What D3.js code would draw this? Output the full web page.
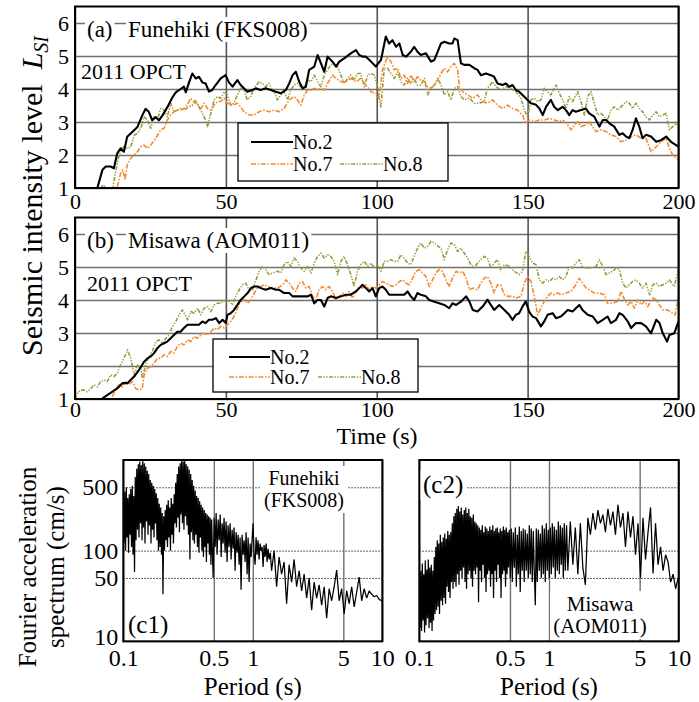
<!DOCTYPE html>
<html>
<head>
<meta charset="utf-8">
<script src="https://cdn.jsdelivr.net/npm/d3@7"></script>
<style>
html, body { margin: 0; padding: 0; background: #fff; }
svg { display: block; }
</style>
</head>
<body>
<svg id="chart" width="699" height="702"></svg>
<script>
// ---------- data ----------
const timeTicks = [0, 50, 100, 150, 200];
const levelTicks = [1, 2, 3, 4, 5, 6];
const periodTicks = [0.1, 0.5, 1, 5, 10];
const fasTicks = [10, 50, 100, 500];
const seriesNames = ["No.2", "No.7", "No.8"];

// Seismic intensity level L_SI vs time (s), Funehiki (FKS008)
const funehikiNo2 = [[7.4,1.0],[9.1,1.55],[10.2,1.65],[11.8,1.65],[12.9,1.6],[14,2.05],[15.1,2.2],[16.2,2.1],[17.3,2.55],[19,2.7],[20.7,2.85],[22.3,3.2],[23.4,3.4],[24.5,3.3],[25.6,3.05],[26.7,3.15],[27.8,3.05],[29,3.2],[30.6,3.45],[32.3,3.75],[33.4,3.9],[35,4.0],[36.1,4.07],[36.7,3.9],[37.8,4.2],[38.9,4.47],[40,4.32],[41.1,4.37],[42.2,4.2],[43.3,4.17],[44.4,3.92],[45.5,3.97],[46.6,4.12],[48.3,4.32],[49.9,4.42],[51,4.2],[52.2,4.07],[53.8,4.27],[54.9,4.12],[56,4.02],[57.1,3.92],[58.8,3.97],[59.9,4.02],[61.5,3.97],[63.2,4.02],[64.9,3.97],[66.5,3.92],[68.2,3.87],[69.9,3.97],[71,4.17],[72.1,4.42],[73.2,4.52],[74.3,4.22],[75.4,4.02],[76.5,4.07],[77.6,4.58],[79.3,4.68],[80.4,5.03],[81.5,4.78],[82.6,4.52],[83.7,4.98],[85.3,4.83],[86.5,4.68],[87.6,4.83],[89.2,4.93],[91.4,5.08],[93.1,5.18],[94.2,5.03],[95.3,4.98],[96.4,4.98],[98.1,4.83],[99.7,4.68],[101.4,4.88],[103,5.59],[104.1,5.38],[105.2,5.48],[106.4,5.28],[107.5,5.38],[108.6,5.03],[109.7,4.98],[111.3,5.13],[112.4,5.28],[113.5,5.13],[114.6,5.03],[116.3,5.08],[118,4.83],[119.1,4.88],[120.2,5.13],[121.3,5.38],[122.4,5.43],[124,5.38],[125.1,5.38],[125.7,5.53],[126.8,5.48],[127.9,4.78],[129,4.73],[130.7,4.73],[132.3,4.63],[133.4,4.58],[134.5,4.42],[136.2,4.47],[137.8,4.42],[138.9,4.37],[140,4.17],[141.7,4.12],[142.8,4.17],[143.9,4.07],[145,4.12],[146.1,3.97],[147.2,3.92],[148.3,3.82],[150,3.67],[151.1,3.57],[152.8,3.52],[153.9,3.41],[155,3.21],[156.1,3.46],[157.7,3.67],[158.8,3.46],[160,3.36],[161.6,3.46],[162.7,3.36],[163.8,3.21],[164.9,3.36],[166,3.31],[167.7,3.36],[169.3,3.41],[170.4,3.26],[172.1,3.16],[173.8,2.86],[174.9,3.06],[176,3.06],[177.1,2.96],[178.7,2.86],[180.4,2.61],[181.5,2.66],[182.6,2.56],[183.7,2.51],[184.8,2.76],[185.9,3.11],[187,2.86],[188.1,2.51],[189.2,2.61],[190.9,2.56],[192.6,2.4],[194.2,2.45],[195.9,2.56],[197.5,2.4],[199.2,2.3],[200,2.25]];

const funehikiNo7 = [[14,1.04],[15.1,1.44],[15.8,1.55],[16.6,1.25],[17.3,1.7],[18.5,1.9],[19.6,2.0],[20.7,2.1],[21.8,2.25],[22.9,2.3],[24,2.2],[25.1,2.3],[26.7,2.5],[28.4,2.76],[29.5,2.81],[30.6,3.06],[31.7,3.21],[32.8,3.31],[33.9,3.36],[35,3.36],[36.1,3.41],[37.2,3.51],[38.3,3.72],[39.4,3.62],[40.6,3.51],[41.7,3.41],[42.8,3.57],[43.9,3.41],[45,3.36],[46.1,3.51],[47.2,3.62],[48.3,3.62],[49.4,3.72],[50.5,3.57],[52.2,3.51],[53.8,3.57],[54.9,3.46],[56,3.31],[57.7,3.21],[59.3,3.21],[61,3.31],[62.7,3.36],[64.3,3.31],[66,3.36],[67.7,3.31],[69.3,3.41],[71,3.67],[72.6,3.77],[73.7,3.67],[74.8,3.51],[76,3.82],[77.1,3.97],[78.2,3.97],[79.3,4.02],[80.4,3.97],[81.5,4.02],[82.6,3.97],[83.7,4.17],[85.3,4.42],[86.5,4.32],[88.1,4.22],[89.8,4.22],[91.4,4.32],[93.1,4.22],[94.7,4.32],[96.4,4.12],[98.1,3.92],[99.7,3.87],[100.8,3.72],[101.9,4.58],[103.6,4.98],[104.7,4.83],[105.8,4.58],[106.9,4.63],[108,4.32],[109.1,4.42],[110.2,4.17],[111.3,4.42],[112.4,4.22],[113.5,4.37],[114.6,4.27],[115.8,4.22],[116.9,4.07],[118,4.02],[119.1,4.12],[120.2,4.27],[121.3,4.47],[122.4,4.63],[123.5,4.52],[124.6,4.68],[125.7,4.78],[126.8,4.58],[127.4,4.07],[128.5,3.92],[130.1,3.82],[131.8,3.72],[133.4,3.82],[135,3.62],[136.7,3.57],[138.4,3.67],[140,3.51],[141.7,3.41],[143.4,3.51],[145,3.41],[146.7,3.36],[148.3,3.21],[149.4,2.96],[150.5,3.06],[152.2,3.01],[153.9,3.06],[155.5,3.06],[157.2,3.11],[158.8,3.06],[160.5,3.01],[161.6,3.06],[163.3,2.91],[164.4,2.76],[165.5,2.91],[166.6,3.01],[167.7,2.86],[169.3,2.91],[170.4,3.01],[171.5,2.86],[172.7,2.71],[174.3,2.76],[176,2.71],[177.6,2.61],[179.3,2.56],[180.9,2.4],[182.6,2.45],[184.3,2.56],[185.9,2.61],[187.6,2.51],[189.2,2.51],[190.9,2.1],[192.6,2.25],[194.2,2.4],[195.9,2.51],[197,2.2],[198.1,2.0],[200,1.85]];

const funehikiNo8 = [[8.5,1.0],[9.4,1.1],[10.3,1.0],[12.5,1.0],[13.5,1.5],[14.5,1.95],[15.5,2.2],[16.2,2.25],[17.3,2.2],[18.5,2.25],[19.6,2.6],[20.7,2.66],[21.8,2.81],[22.9,3.16],[24,3.06],[25.1,2.81],[26.2,3.16],[27.3,3.06],[28.4,3.41],[29.5,3.36],[30.6,3.16],[31.7,3.57],[32.8,3.31],[33.9,3.36],[35,3.41],[36.1,3.36],[37.8,3.46],[38.9,3.51],[40,3.67],[41.1,3.46],[42.2,3.26],[43.3,3.06],[43.9,2.86],[45,3.26],[46.1,3.67],[47.2,3.77],[48.3,3.72],[49.4,3.92],[50.5,3.82],[51.6,3.51],[52.7,3.57],[53.8,3.82],[54.9,4.02],[56,3.97],[57.1,3.67],[58.2,3.77],[59.3,4.02],[61,4.22],[62.1,4.17],[63.2,4.07],[64.3,4.17],[65.4,3.97],[66.5,3.82],[67.1,3.67],[68.2,3.82],[69.3,3.92],[70.4,3.67],[71.5,3.97],[72.6,4.12],[73.7,4.17],[74.8,4.07],[76,4.12],[77.1,4.27],[78.2,4.22],[79.3,4.42],[80.4,4.22],[81.5,4.07],[82.6,4.42],[83.7,4.58],[84.8,4.73],[85.9,4.78],[87,4.68],[88.1,4.42],[89.2,4.17],[90.3,4.32],[91.4,4.42],[92.5,4.27],[93.6,4.47],[94.7,4.47],[95.9,4.07],[97,4.42],[98.1,4.47],[99.2,4.42],[100.3,4.07],[100.8,3.72],[101.4,3.46],[102.5,4.63],[103.6,4.63],[104.7,4.47],[105.8,4.32],[106.9,4.52],[108,4.22],[109.1,4.12],[110.2,4.32],[111.3,4.17],[112.4,4.32],[113.5,4.12],[114.6,4.12],[115.8,4.32],[116.9,3.82],[118,4.02],[119.1,4.12],[120.2,4.32],[121.3,4.12],[122.4,3.82],[123.5,3.92],[124.6,3.67],[125.7,4.02],[126.8,4.07],[127.9,3.77],[129,3.67],[130.7,3.72],[132.3,3.57],[134,3.57],[135.6,3.62],[136.7,4.02],[138.4,4.22],[139.5,4.07],[141.1,3.97],[142.8,4.07],[144.5,4.02],[146.1,3.92],[147.8,3.72],[148.9,3.36],[150,3.16],[151.1,3.67],[152.2,3.72],[153.3,3.62],[154.4,3.67],[155.5,4.02],[156.6,3.92],[157.7,3.82],[159.4,4.12],[160.5,3.87],[161.6,3.67],[162.7,3.41],[163.8,3.77],[164.9,3.62],[166.6,3.92],[167.7,3.62],[168.8,3.21],[169.9,3.77],[171,3.92],[172.1,3.57],[173.2,3.21],[174.3,3.26],[175.4,3.16],[176.5,3.06],[177.6,3.36],[178.7,3.46],[179.8,3.36],[181.5,3.51],[182.6,3.62],[183.7,3.57],[184.8,3.41],[185.9,3.57],[187,3.41],[188.1,3.31],[189.2,3.16],[190.4,3.06],[191.5,3.21],[192.6,3.31],[193.7,3.16],[194.8,3.21],[195.9,3.26],[197,2.76],[198.1,2.86],[199.2,2.96],[200,2.86]];

// Seismic intensity level L_SI vs time (s), Misawa (AOM011)
const misawaNo2 = [[9.1,1.02],[10.7,1.12],[12.4,1.22],[14,1.32],[15.7,1.48],[17.4,1.48],[18.5,1.58],[19.6,1.68],[21.2,1.88],[22.9,2.13],[24,2.23],[25.1,2.29],[26.2,2.39],[27.3,2.54],[28.4,2.64],[29.5,2.69],[30.6,2.74],[31.7,2.84],[32.8,2.94],[33.9,3.04],[35,3.04],[36.1,3.15],[37.3,3.25],[38.4,3.25],[39.5,3.25],[41.1,3.25],[42.2,3.35],[43.3,3.3],[44.4,3.4],[45.5,3.4],[46.7,3.45],[47.8,3.3],[48.9,3.4],[50,3.3],[50.5,3.55],[51.6,3.6],[52.7,3.7],[53.8,3.85],[55,4.01],[56.1,4.11],[57.2,4.21],[58.3,4.36],[59.4,4.41],[60.5,4.41],[61.6,4.36],[63.2,4.31],[64.9,4.36],[66.6,4.31],[67.7,4.31],[69.3,4.21],[71,4.21],[72.1,4.11],[73.7,4.11],[75.4,4.11],[77.1,4.11],[78.2,4.16],[79.3,3.9],[80.4,4.0],[81.5,4.0],[82.6,3.8],[83.7,4.06],[84.8,4.11],[86.5,4.06],[88.1,4.11],[89.8,4.16],[91.4,4.16],[93.1,4.26],[94.2,4.36],[95.3,4.46],[96.4,4.36],[97.5,4.26],[98.6,4.36],[99.7,4.11],[100.8,4.36],[101.9,4.41],[103,4.31],[104.1,4.16],[105.8,4.16],[107.5,4.16],[109.1,4.16],[110.2,4.26],[111.3,4.11],[112.4,4.0],[113.5,4.21],[114.6,4.16],[116.3,4.11],[117.4,4.0],[119.1,3.95],[120.7,3.9],[122.4,3.85],[124,3.75],[125.1,3.9],[126.3,3.85],[127.9,3.95],[129.6,4.11],[130.7,3.95],[131.8,3.7],[133.4,3.65],[135.1,3.8],[136.7,4.01],[137.8,3.85],[138.9,3.7],[140.6,3.85],[142.3,3.7],[143.9,3.55],[145,3.4],[146.1,3.55],[147.2,3.6],[148.3,3.8],[149.4,3.96],[150.5,3.65],[151.6,3.5],[152.8,3.45],[154.4,3.2],[155.5,3.35],[156.6,3.55],[158.3,3.6],[159.4,3.45],[161,3.5],[162.2,3.6],[163.3,3.7],[164.9,3.65],[166,3.75],[167.1,3.85],[168.2,3.7],[169.9,3.55],[171.6,3.5],[173.2,3.3],[174.9,3.4],[176.5,3.5],[177.6,3.3],[179.3,3.4],[180.4,3.6],[181.5,3.55],[183.2,3.35],[184.3,3.15],[185.9,3.3],[187.6,3.3],[189.2,3.2],[190.9,2.99],[192.6,3.4],[193.7,3.3],[194.8,2.99],[196.2,2.74],[197,2.94],[198.6,2.99],[200,3.35]];

const misawaNo7 = [[12.4,1.07],[13.5,1.32],[14.6,1.43],[15.7,1.37],[16.8,1.53],[17.9,1.43],[19,1.53],[20.1,1.32],[21.2,1.27],[22.3,1.32],[22.9,1.73],[24,1.93],[25.1,1.98],[26.2,2.08],[27.3,2.23],[28.4,2.23],[29.5,2.34],[30.6,2.29],[31.7,2.44],[32.8,2.39],[33.9,2.59],[35,2.69],[36.1,2.64],[37.3,2.79],[38.4,2.74],[39.5,2.89],[40.6,2.84],[41.7,2.94],[42.8,2.99],[43.9,2.94],[45,3.04],[46.1,3.15],[47.2,3.1],[48.3,3.2],[49.4,3.15],[50.5,3.25],[51.6,3.35],[52.7,3.5],[53.8,3.75],[55,3.96],[56.1,4.01],[57.2,3.9],[58.3,4.01],[59.4,4.21],[60.5,4.36],[61.6,4.41],[62.7,4.46],[63.8,4.41],[65.4,4.36],[67.1,4.36],[68.8,4.46],[69.9,4.61],[71,4.51],[72.1,4.36],[73.2,4.26],[74.3,4.51],[75.4,4.56],[76.5,4.36],[77.6,4.41],[78.7,4.11],[79.8,4.01],[80.9,4.31],[82,4.41],[83.1,4.31],[84.2,4.41],[85.3,4.26],[86.5,4.01],[87.6,4.11],[88.7,4.21],[89.8,4.11],[90.9,4.26],[92,4.06],[93.1,4.26],[94.2,4.41],[95.3,4.36],[96.4,4.46],[97.5,4.31],[98.6,4.41],[99.7,4.36],[100.8,4.46],[101.9,4.56],[103,4.51],[104.1,4.46],[105.2,4.41],[106.4,4.46],[107.5,4.56],[108.6,4.61],[109.7,4.51],[110.8,4.46],[111.9,4.66],[113,4.87],[114.1,4.92],[115.2,4.82],[116.3,4.71],[117.4,4.41],[118.5,4.61],[119.6,4.82],[120.7,4.92],[121.8,4.87],[122.9,4.61],[124,4.41],[125.1,4.66],[126.3,4.87],[127.4,4.82],[128.5,4.87],[129.6,4.66],[130.7,4.31],[131.8,4.36],[133.4,4.31],[134.5,4.51],[135.6,4.66],[136.7,4.71],[137.8,4.51],[138.9,4.21],[140,4.46],[141.1,4.46],[142.3,4.16],[143.4,4.11],[145,4.11],[146.1,4.06],[147.8,4.11],[148.9,4.51],[150,4.71],[151.1,4.56],[152.2,4.11],[153.3,3.55],[154.4,3.75],[155.5,3.96],[156.6,4.11],[157.7,4.21],[158.8,4.16],[160,4.21],[161.1,4.16],[162.7,4.21],[164.4,4.26],[166,4.46],[167.1,4.66],[168.2,4.51],[169.4,4.36],[170.4,4.31],[172.1,4.21],[173.8,4.21],[175.4,4.16],[176.5,3.9],[178.2,3.9],[179.8,3.96],[181,4.26],[182.1,4.01],[183.2,3.85],[184.3,3.96],[185.4,3.75],[186.5,4.01],[187.6,3.85],[188.7,3.96],[189.8,3.8],[191.5,4.06],[192.6,4.01],[193.7,3.85],[194.8,3.7],[196.4,3.7],[198.1,3.6],[198.9,3.55],[200,4.11]];

const misawaNo8 = [[0,1.0],[0.8,1.17],[1.9,1.27],[3,1.27],[4.1,1.22],[5.2,1.32],[6.3,1.43],[7.4,1.37],[8.5,1.53],[9.6,1.58],[10.7,1.53],[11.8,1.73],[12.9,1.68],[14,1.78],[15.1,2.03],[16.2,2.23],[17.4,2.49],[18.5,2.23],[19.6,1.73],[20.7,2.03],[21.8,1.93],[22.3,1.63],[23.4,2.03],[24.5,2.29],[25.6,2.44],[26.8,2.74],[27.9,2.79],[29,2.69],[30.1,2.84],[31.2,2.94],[32.3,3.2],[33.4,3.35],[34.5,3.55],[35.6,3.7],[36.2,3.6],[37.3,3.4],[38.4,3.65],[39.5,3.6],[40.6,3.75],[41.7,3.55],[42.8,3.75],[43.9,3.8],[45,3.65],[46.1,3.85],[47.2,3.9],[48.3,3.9],[50,4.01],[51.1,3.96],[52.2,3.85],[53.3,4.11],[54.4,4.31],[55.5,4.46],[56.6,4.51],[57.7,4.31],[58.8,4.31],[60,4.61],[61,4.87],[62.1,5.02],[63.2,4.92],[64.3,4.77],[65.5,4.82],[67.1,4.87],[68.2,4.82],[69.3,5.07],[70.4,5.17],[71.5,5.02],[72.6,5.27],[73.7,5.17],[74.8,4.97],[76,4.87],[77.1,5.02],[78.2,4.82],[79.3,5.12],[80.4,5.32],[81.5,5.42],[82.6,5.27],[83.7,5.37],[84.8,5.32],[85.9,5.17],[87,4.77],[88.1,5.17],[89.2,5.32],[90.3,5.07],[91.4,4.77],[92.5,4.41],[93.6,4.87],[94.7,5.07],[95.9,5.17],[97,5.02],[98.1,5.12],[99.2,4.97],[100.3,5.07],[101.4,4.87],[102.5,5.17],[103.6,5.17],[104.7,5.22],[105.8,5.17],[106.9,5.17],[108,5.37],[109.1,5.27],[110.2,5.12],[111.3,5.07],[112.4,5.32],[113.5,5.57],[114.6,5.73],[115.8,5.57],[116.9,5.63],[118,5.78],[119.1,5.73],[120.2,5.63],[121.3,5.57],[122.4,5.22],[123.5,5.53],[124.6,5.73],[125.7,5.68],[126.8,5.47],[127.9,5.57],[129,5.42],[130.1,5.27],[131.2,5.07],[132.3,4.97],[133.4,5.12],[134.5,5.22],[135.6,5.32],[136.7,5.27],[137.8,4.97],[138.9,5.12],[140,5.22],[141.1,4.92],[142.3,5.07],[143.9,5.02],[145.6,4.87],[147.2,4.77],[148.3,4.87],[149.4,5.47],[150.5,5.32],[151.6,5.12],[152.8,5.07],[153.9,4.61],[155,4.51],[156.1,4.61],[157.2,4.56],[158.3,4.66],[159.4,4.61],[160.5,4.71],[161.6,4.61],[162.7,4.71],[163.8,5.02],[164.9,4.97],[166,5.12],[167.1,5.22],[168.2,5.02],[169.4,4.97],[171,4.97],[172.7,5.02],[173.8,5.22],[174.9,5.02],[176,4.77],[177.1,4.82],[178.2,4.87],[179.3,4.97],[180.4,4.92],[181.5,4.51],[182.6,4.36],[183.7,4.46],[184.8,4.56],[185.9,4.61],[187,4.51],[188.1,4.36],[189.2,4.51],[190.4,4.16],[191.5,4.46],[192.6,4.51],[193.7,4.41],[194.8,4.46],[195.9,4.51],[197,4.61],[198.1,4.46],[198.6,4.41],[200,4.92]];

// Fourier acceleration spectra: period (s) and amplitude (cm/s)
const periods = [
  0.1000,0.1013,0.1027,0.1041,0.1055,0.1069,0.1083,0.1098,0.1112,0.1127,0.1142,0.1158,0.1173,0.1189,0.1205,0.1221,0.1237,0.1254,0.1271,0.1288,
  0.1305,0.1322,0.1340,0.1358,0.1376,0.1395,0.1413,0.1432,0.1452,0.1471,0.1491,0.1511,0.1531,0.1552,0.1572,0.1593,0.1615,0.1636,0.1658,0.1681,
  0.1703,0.1726,0.1749,0.1772,0.1796,0.1820,0.1845,0.1869,0.1894,0.1920,0.1946,0.1972,0.1998,0.2025,0.2052,0.2080,0.2107,0.2136,0.2164,0.2193,
  0.2223,0.2253,0.2283,0.2313,0.2344,0.2376,0.2408,0.2440,0.2473,0.2506,0.2539,0.2573,0.2608,0.2643,0.2678,0.2714,0.2750,0.2787,0.2825,0.2863,
  0.2901,0.2940,0.2979,0.3019,0.3059,0.3100,0.3142,0.3184,0.3227,0.3270,0.3314,0.3358,0.3403,0.3449,0.3495,0.3542,0.3589,0.3638,0.3686,0.3736,
  0.3786,0.3837,0.3888,0.3940,0.3993,0.4047,0.4101,0.4156,0.4211,0.4268,0.4325,0.4383,0.4442,0.4501,0.4562,0.4623,0.4685,0.4748,0.4811,0.4876,0.4941,
  0.5029,0.512,0.521,0.530,0.540,0.550,0.560,0.570,0.580,0.590,0.600,0.611,0.622,0.633,0.644,0.656,0.668,0.680,0.692,0.705,
  0.717,0.730,0.743,0.757,0.770,0.784,0.798,0.812,0.827,0.842,0.857,0.872,0.888,0.904,0.920,0.936,0.953,0.970,0.987,1.005,
  1.023,1.042,1.060,1.079,1.098,1.118,1.138,1.159,1.180,1.201,1.222,1.244,1.267,1.289,1.312,1.336,1.366,
  1.397,1.460,1.527,1.596,1.669,1.745,1.824,1.907,1.994,2.085,2.180,2.279,2.383,2.491,2.604,2.723,2.847,2.976,3.112,3.253,
  3.401,3.556,3.718,3.887,4.064,4.249,4.442,4.644,4.856,5.076,5.307,5.549,5.801,6.065,6.341,6.630,6.931,7.247,7.576,7.921,
  8.282,8.658,9.052,9.464,9.894,10.0];

const fasFunehiki = [
  300,120,450,100,500,140,380,95,420,150, 480,110,520,90,400,58,650,130,800,170,
  900,140,960,200,880,130,990,180,920,120, 850,210,760,150,700,190,600,120,560,170,
  520,140,480,200,430,130,380,100,330,110, 300,90,260,33,240,100,280,130,320,110,
  360,140,300,100,380,150,330,120,420,200, 560,180,700,230,850,160,920,250,1000,200,
  960,170,1000,240,900,190,850,150,780,80, 700,160,600,130,520,120,460,150,400,110,
  380,95,350,140,320,100,300,85,280,110, 260,75,250,120,240,90,230,70,220,95,50,
  230,110,260,90,220,130,250,85,200,120, 230,95,210,75,190,110,200,80,170,105,
  180,60,160,95,150,70,140,37,150,90, 130,75,160,55,140,45,120,85,130,200,
  90,70,140,90,130,80,120,100,110,66, 115,85,120,75,105,80,95,
  60,100,40,85,55,75,26,70,45,80, 40,60,36,55,30,50,22,45,30,42,
  25,40,18,38,28,40,61,28,38,20, 36,26,40,24,35,51,28,38,30,36,
  33,31,32,29,28,28];

const fasMisawa = [
  50,14,60,13,72,17,55,12.5,78,15, 62,18,80,14,65,16,70,13,60,17,
  85,20,110,22,130,24,120,20,150,28, 125,25,140,30,155,26,135,40,165,35,
  150,30,160,45,200,38,240,45,260,40, 290,55,310,42,270,60,300,50,250,65,
  280,45,300,38,260,55,290,60,240,50, 230,40,250,60,210,55,200,65,190,27,
  180,60,170,45,190,70,160,50,185,35, 175,55,165,60,185,40,170,55,190,30,
  165,60,175,45,180,70,160,50,175,30, 165,55,185,60,170,40,180,55,160,65,170,
  50,175,45,160,65,180,40,150,55,185, 35,165,60,175,45,170,60,155,50,190,
  55,175,45,165,60,25,175,45,170,60, 155,50,190,55,175,45,200,60,170,50,
  180,55,200,65,185,50,170,60,210,55, 190,70,180,50,200,60,190,
  60,210,70,180,55,200,65,42,230,150, 260,170,280,200,250,160,290,190,270,150,
  320,180,260,110,270,140,240,90,200,50, 230,80,160,300,56,200,70,110,60,90,
  75,45,55,38,50,45];

// ---------- drawing ----------
const serif = '"Liberation Serif", "Times New Roman", Times, serif';
const svg = d3.select("#chart").attr("font-family", serif);

const seriesColor = ["#000000", "#f68a2c", "#9b9b3d"];
const seriesWidth = [2.1, 1.6, 1.6];
const seriesDash = [null, "5,1.6,1.6,1.6", "4,1.5,1.3,1.5,1.3,1.5"];

const xTime = d3.scaleLinear().domain([0, 200]).range([75, 678.5]);

function whiteBehind(textSel, pad) {
  const parent = d3.select(textSel.node().parentNode);
  const b = textSel.node().getBBox();
  parent.insert("rect", () => textSel.node())
    .attr("x", b.x - pad[0]).attr("y", b.y - pad[1])
    .attr("width", b.width + 2 * pad[0]).attr("height", b.height + 2 * pad[1])
    .attr("fill", "#fff");
}

function timePanel(cfg) {
  const y = d3.scaleLinear().domain([1, 6.5]).range([cfg.bottom, cfg.bottom - 5.5 * 33]);
  const left = xTime.range()[0], right = xTime.range()[1];
  const top = y(6.5), bottom = y(1);
  const g = svg.append("g");

  svg.append("clipPath").attr("id", "clip-" + cfg.key)
    .append("rect").attr("x", left).attr("y", top).attr("width", right - left).attr("height", bottom - top);

  const ya = g.append("g").attr("transform", `translate(${left},0)`)
    .call(d3.axisLeft(y).tickValues(levelTicks).tickFormat(d3.format("d"))
      .tickSizeInner(-(right - left)).tickSizeOuter(0).tickPadding(6));
  ya.attr("font-family", serif).attr("font-size", 22);
  ya.select(".domain").remove();
  ya.selectAll(".tick line").attr("stroke", "#707070").attr("stroke-width", 1.3);
  ya.selectAll(".tick text").attr("fill", "#000");

  const xa = g.append("g").attr("transform", `translate(0,${bottom})`)
    .call(d3.axisBottom(xTime).tickValues(timeTicks).tickFormat(d3.format("d"))
      .tickSizeInner(-(bottom - top)).tickSizeOuter(0).tickPadding(cfg.xPad));
  xa.attr("font-family", serif).attr("font-size", 22);
  xa.select(".domain").remove();
  xa.selectAll(".tick line").attr("stroke", "#555").attr("stroke-width", 1.6);
  xa.selectAll(".tick text").attr("fill", "#000");

  // panel title with white backing
  const t1 = g.append("text").attr("x", 87).attr("y", cfg.titleY).attr("font-size", 23).text(cfg.tag);
  whiteBehind(t1, [2, 0]);
  const t2 = g.append("text").attr("x", 128).attr("y", cfg.titleY).attr("font-size", 23).text(cfg.site);
  whiteBehind(t2, [2, 0]);
  g.append("text").attr("x", cfg.opctX).attr("y", cfg.opctY).attr("font-size", 22).text("2011 OPCT");

  const line = d3.line().x(d => xTime(d[0])).y(d => y(d[1]));
  const lg = g.append("g").attr("clip-path", `url(#clip-${cfg.key})`);
  [2, 1, 0].forEach(i => {
    lg.append("path").datum(cfg.series[i]).attr("d", line)
      .attr("fill", "none").attr("stroke", seriesColor[i])
      .attr("stroke-width", seriesWidth[i]).attr("stroke-dasharray", seriesDash[i])
      .attr("stroke-linejoin", "round");
  });

  // legend
  const L = cfg.legend;
  const leg = g.append("g");
  leg.append("rect").attr("x", L.x).attr("y", L.y).attr("width", L.w).attr("height", L.h)
    .attr("fill", "#fff").attr("stroke", "#000").attr("stroke-width", 1.3);
  L.items.forEach(it => {
    leg.append("line").attr("x1", it.x1).attr("x2", it.x2).attr("y1", it.y).attr("y2", it.y)
      .attr("stroke", seriesColor[it.i]).attr("stroke-width", seriesWidth[it.i])
      .attr("stroke-dasharray", seriesDash[it.i]);
    leg.append("text").attr("x", it.x2).attr("y", it.y + 7).attr("font-size", 20).text(seriesNames[it.i]);
  });

  g.append("rect").attr("x", left).attr("y", top).attr("width", right - left).attr("height", bottom - top)
    .attr("fill", "none").attr("stroke", "#000").attr("stroke-width", 2);
}

timePanel({
  key: "a", bottom: 188, xPad: 5, titleY: 37, tag: "(a)", site: "Funehiki (FKS008)",
  opctX: 81, opctY: 79, series: [funehikiNo2, funehikiNo7, funehikiNo8],
  legend: { x: 238, y: 123, w: 210, h: 58,
    items: [{ i: 0, x1: 251, x2: 293, y: 142 }, { i: 1, x1: 251, x2: 293, y: 164 }, { i: 2, x1: 340, x2: 383, y: 164 }] }
});
timePanel({
  key: "b", bottom: 399, xPad: 2, titleY: 248, tag: "(b)", site: "Misawa (AOM011)",
  opctX: 87, opctY: 291, series: [misawaNo2, misawaNo7, misawaNo8],
  legend: { x: 213, y: 339, w: 205, h: 53,
    items: [{ i: 0, x1: 229, x2: 270, y: 357 }, { i: 1, x1: 229, x2: 270, y: 377 }, { i: 2, x1: 318, x2: 361, y: 377 }] }
});

// axis titles for the time panels
svg.append("text").attr("x", 377).attr("y", 444).attr("text-anchor", "middle").attr("font-size", 24).text("Time (s)");
const yl = svg.append("text").attr("transform", "translate(42,196) rotate(-90)")
  .attr("text-anchor", "middle").attr("font-size", 30);
yl.append("tspan").text("Seismic intensity level\u00a0\u00a0");
yl.append("tspan").attr("font-style", "italic").text("L");
yl.append("tspan").attr("font-style", "italic").attr("font-size", 20).attr("dy", 6).text("SI");

// ---------- spectrum panels ----------
const yFas = d3.scaleLog().domain([10, 1000]).range([641.3, 460]);

function spectrumPanel(cfg) {
  const xs = d3.scaleLog().domain([0.1, 10]).range(cfg.xr);
  const left = cfg.xr[0], right = cfg.xr[1], top = yFas.range()[1], bottom = yFas.range()[0];
  const g = svg.append("g");

  svg.append("clipPath").attr("id", "clip-" + cfg.key)
    .append("rect").attr("x", left).attr("y", top).attr("width", right - left).attr("height", bottom - top);

  const ya = g.append("g").attr("transform", `translate(${left},0)`)
    .call(d3.axisLeft(yFas).tickValues(fasTicks).tickFormat(cfg.showY ? d3.format("d") : () => "")
      .tickSizeInner(-(right - left)).tickSizeOuter(0).tickPadding(5));
  ya.attr("font-family", serif).attr("font-size", 24);
  ya.select(".domain").remove();
  ya.selectAll(".tick line").attr("stroke", "#333").attr("stroke-width", 1).attr("stroke-dasharray", "1.5,1.5");
  ya.selectAll(".tick text").attr("fill", "#000").attr("dy", d => d === 10 ? "0.15em" : "0.32em");

  const xa = g.append("g").attr("transform", `translate(0,${bottom})`)
    .call(d3.axisBottom(xs).tickValues(periodTicks).tickFormat(d => String(d))
      .tickSizeInner(-(bottom - top)).tickSizeOuter(0).tickPadding(8));
  xa.attr("font-family", serif).attr("font-size", 24);
  xa.select(".domain").remove();
  xa.selectAll(".tick line").attr("stroke", "#707070").attr("stroke-width", 1.4);
  xa.selectAll(".tick text").attr("fill", "#000");

  // panel annotations
  cfg.notes.forEach(n => {
    const t = g.append("text").attr("x", n.x).attr("y", n.y).attr("font-size", n.size)
      .attr("text-anchor", n.anchor || "start");
    n.lines.forEach((s, k) => t.append("tspan").attr("x", n.x).attr("dy", k ? n.lh : 0).text(s));
    if (n.bg) whiteBehind(t, [3, 1]);
  });

  const pts = periods.map((p, i) => [p, cfg.amp[i]]);
  g.append("g").attr("clip-path", `url(#clip-${cfg.key})`)
    .append("path").datum(pts)
    .attr("d", d3.line().x(d => xs(d[0])).y(d => yFas(d[1])))
    .attr("fill", "none").attr("stroke", "#000").attr("stroke-width", 1.25).attr("stroke-linejoin", "bevel");

  g.append("rect").attr("x", left).attr("y", top).attr("width", right - left).attr("height", bottom - top)
    .attr("fill", "none").attr("stroke", "#000").attr("stroke-width", 2);

  svg.append("text").attr("x", (left + right) / 2).attr("y", 695).attr("text-anchor", "middle")
    .attr("font-size", 25).text("Period (s)");
}

spectrumPanel({
  key: "c1", xr: [123.3, 382.3], amp: fasFunehiki, showY: true,
  notes: [
    { x: 304, y: 485, size: 20, anchor: "middle", lh: 22, lines: ["Funehiki", "(FKS008)"], bg: true },
    { x: 128, y: 633, size: 25, lines: ["(c1)"] }
  ]
});
spectrumPanel({
  key: "c2", xr: [419.3, 678.7], amp: fasMisawa, showY: false,
  notes: [
    { x: 423, y: 493, size: 25, lines: ["(c2)"], bg: true },
    { x: 600, y: 611, size: 21, anchor: "middle", lh: 22, lines: ["Misawa", "(AOM011)"], bg: true }
  ]
});

const fl = svg.append("text").attr("transform", "translate(0,567) rotate(-90)")
  .attr("text-anchor", "middle").attr("font-size", 25);
fl.append("tspan").attr("x", 0).attr("y", 36).text("Fourier acceleration");
fl.append("tspan").attr("x", 0).attr("y", 64).text("spectrum (cm/s)");
</script>
</body>
</html>
